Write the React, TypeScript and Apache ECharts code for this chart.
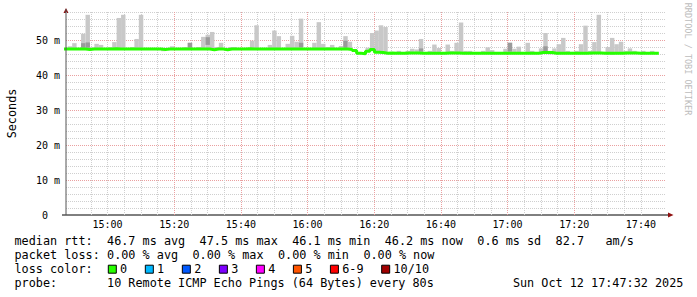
import React, { useEffect, useRef } from "react";
import * as echarts from "echarts";

// ---------- data ----------
const STEP_SECONDS = 80;
const FIRST_STEP_CLOCK: [number, number, number] = [14, 46, 43]; // start of first 80 s step (k = -1)
const RANGE_START_CLOCK: [number, number, number] = [14, 47, 32];
const RANGE_END_CLOCK: [number, number, number] = [17, 47, 32];
const FIRST_K = -1;

// median rtt (ms) per step, k = -1 .. 132
const medianMs = [
  47.4,
  47.4, 47.4, 47.4, 47.4, 47.3, 47.4, 47.4, 47.4, 47.4, 47.4,
  47.5, 47.4, 47.4, 47.4, 47.4, 47.4, 47.4, 47.4, 47.4, 47.4,
  47.4, 47.3, 47.4, 47.4, 47.4, 47.4, 47.4, 47.4, 47.4, 47.4,
  47.4, 47.4, 47.2, 47.4, 47.4, 47.2, 47.4, 47.4, 47.4, 47.4,
  47.5, 47.4, 47.4, 47.4, 47.4, 47.4, 47.4, 47.4, 47.4, 47.4,
  47.4, 47.4, 47.4, 47.4, 47.4, 47.4, 47.4, 47.4, 47.4, 47.4,
  47.4, 47.4, 47.4, 47.3, 47.0, 46.2, 46.1, 46.8, 47.3, 46.5,
  46.4, 46.2, 46.3, 46.2, 46.2, 46.2, 46.3, 46.3, 46.3, 46.2,
  46.2, 46.2, 46.2, 46.2, 46.2, 46.3, 46.3, 46.3, 46.2, 46.2,
  46.2, 46.2, 46.2, 46.2, 46.2, 46.2, 46.2, 46.2, 46.2, 46.2,
  46.2, 46.2, 46.2, 46.2, 46.2, 46.2, 46.4, 46.4, 46.4, 46.2,
  46.2, 46.2, 46.2, 46.2, 46.2, 46.2, 46.2, 46.3, 46.3, 46.3,
  46.2, 46.2, 46.2, 46.2, 46.2, 46.3, 46.3, 46.3, 46.2, 46.2,
  46.2, 46.2, 46.2,
];

// highest ping (ms) per step, k = -1 .. 132
const smokeMaxMs = [
  47.6,
  48.2, 49.1, 47.6, 51.8, 57.2, 47.9, 48.9, 48.6, 47.6, 48.0,
  49.4, 56.3, 57.2, 47.6, 48.0, 50.3, 57.2, 47.6, 47.6, 47.6,
  47.6, 47.6, 47.6, 48.2, 47.6, 47.6, 48.0, 49.2, 47.6, 48.0,
  50.9, 51.5, 52.3, 48.0, 49.2, 47.6, 48.0, 48.0, 47.6, 47.6,
  47.6, 49.8, 54.2, 47.6, 47.6, 48.6, 52.7, 51.1, 47.6, 48.9,
  51.2, 49.5, 56.1, 47.6, 47.6, 49.2, 55.1, 48.9, 48.0, 48.6,
  47.6, 48.3, 51.1, 49.5, 47.3, 46.4, 46.4, 47.8, 52.0, 52.7,
  54.2, 53.7, 46.5, 46.4, 46.9, 46.4, 46.9, 47.5, 47.3, 50.3,
  46.4, 46.9, 48.7, 47.7, 46.4, 48.7, 46.9, 49.2, 55.0, 46.9,
  46.9, 46.4, 46.4, 46.9, 47.9, 47.1, 46.4, 46.4, 47.5, 49.2,
  47.5, 48.1, 46.4, 49.2, 46.9, 46.4, 47.6, 52.0, 46.9, 47.6,
  48.8, 50.6, 46.9, 46.6, 46.9, 48.8, 54.1, 46.9, 49.4, 57.2,
  46.6, 48.0, 50.6, 48.8, 49.5, 46.9, 47.6, 46.9, 46.4, 46.9,
  46.4, 46.9, 46.4,
];

// steps whose lowest ping shows below the median line: [k, ms]
const lowPingMs: [number, number][] = [
  [21, 46.8],
  [108, 45.9],
  [122, 45.8],
];

// darker (dense) part of the smoke: [k, lowMs, highMs]
const denseBandMs: [number, number, number][] = [
  [3, 47.8, 49.1],
  [4, 47.8, 49.3],
  [27, 47.8, 49.2],
  [31, 48.6, 50.8],
  [52, 47.9, 49.2],
  [62, 47.8, 49.8],
  [79, 46.7, 47.6],
  [99, 46.7, 49.2],
  [107, 46.6, 48.2],
];

const Y_MAX_MS = 58;
// x tick labels (major, red grid) and minor grid spacing
const majorTickLabels = ["15:00", "15:20", "15:40", "16:00", "16:20", "16:40", "17:00", "17:20", "17:40"];
const MINOR_GRID_MINUTES = 5;

const legendRows: [string, number][][] = [
  [["median rtt:", 0], ["46.7 ms avg", 13], ["47.5 ms max", 26], ["46.1 ms min", 39], ["46.2 ms now", 52], ["0.6 ms sd", 65], ["82.7", 76], ["am/s", 83]],
  [["packet loss:", 0], ["0.00 % avg", 13], ["0.00 % max", 25], ["0.00 % min", 37], ["0.00 % now", 49]],
  [["loss color:", 0]],
  [["probe:", 0], ["10 Remote ICMP Echo Pings (64 Bytes) every 80s", 13], ["Sun Oct 12 17:47:32 2025", 70]],
];
const lossLabels = ["0", "1", "2", "3", "4", "5", "6-9", "10/10"];
const lossColors = ["#26ff00", "#00b8ff", "#0059ff", "#7e00ff", "#ff00ff", "#ff5500", "#ff0000", "#a10000"];
const watermark = "RRDTOOL / TOBI OETIKER";

// ---------- build ----------
const clock = (c: [number, number, number]) => new Date(2025, 9, 12, c[0], c[1], c[2]).getTime();
const T_MIN = clock(RANGE_START_CLOCK);
const T_MAX = clock(RANGE_END_CLOCK);
const T_FIRST = clock(FIRST_STEP_CLOCK);
const STEP_MS = STEP_SECONDS * 1000;

const majorTicks = majorTickLabels.map((s) => {
  const [h, m] = s.split(":").map(Number);
  return clock([h, m, 0]);
});
const minorTicks: number[] = [];
{
  const first = new Date(T_MIN);
  const startMin = Math.ceil((first.getHours() * 60 + first.getMinutes() + first.getSeconds() / 60) / MINOR_GRID_MINUTES) * MINOR_GRID_MINUTES;
  for (let m = startMin; ; m += MINOR_GRID_MINUTES) {
    const t = clock([Math.floor(m / 60), m % 60, 0]);
    if (t >= T_MAX) break;
    minorTicks.push(t);
  }
}

const smokeData = medianMs.map((med, i) => {
  const k = i + FIRST_K;
  const low = lowPingMs.find((p) => p[0] === k);
  const band = denseBandMs.find((b) => b[0] === k);
  return [T_FIRST + i * STEP_MS, low ? low[1] : med, smokeMaxMs[i], band ? band[1] : 0, band ? band[2] : 0];
});
const medianData: number[][] = medianMs.map((v, i) => [T_FIRST + i * STEP_MS, v]);
medianData.push([T_FIRST + medianMs.length * STEP_MS, medianMs[medianMs.length - 1]]);

const MONO = "DejaVu Sans Mono";
const MINOR = "#cfcfcf";
const MAJOR = "#eaa0a0";
const SMOKE = "#c8c8c8";
const SMOKE_DENSE = "#9a9a9a";

const pad2 = (n: number) => (n < 10 ? "0" + n : "" + n);

function buildGraphic() {
  const els: any[] = [];
  const X0 = 14.5;
  const CW = 7.12;
  const FS = 11.8;
  const rowY = [241, 255.1, 269.2, 283.3];
  legendRows.forEach((row, r) => {
    row.forEach(([txt, col]) => {
      els.push({
        type: "text",
        x: X0 + col * CW,
        y: rowY[r],
        style: { text: txt, fontFamily: MONO, fontSize: FS, fill: "#000", textVerticalAlign: "middle", textAlign: "left" },
      });
    });
  });
  let sx = 108.3;
  lossLabels.forEach((lab, i) => {
    els.push({
      type: "rect",
      shape: { x: sx, y: rowY[2] - 4, width: 8, height: 8 },
      style: { fill: lossColors[i], stroke: "#000", lineWidth: 1 },
    });
    els.push({
      type: "text",
      x: sx + 11.8,
      y: rowY[2],
      style: { text: lab, fontFamily: MONO, fontSize: FS, fill: "#000", textVerticalAlign: "middle", textAlign: "left" },
    });
    sx += 29.9 + lab.length * CW;
  });
  // axis arrows and line extensions
  els.push({ type: "line", shape: { x1: 62, y1: 215, x2: 669, y2: 215 }, style: { stroke: "#000", lineWidth: 1 } });
  els.push({ type: "polygon", shape: { points: [[668, 212.5], [673.5, 215], [668, 217.5]] }, style: { fill: "#901010" } });
  els.push({ type: "polygon", shape: { points: [[63.5, 13], [66, 8], [68.5, 13]] }, style: { fill: "#901010" } });
  els.push({ type: "line", shape: { x1: 66, y1: 9, x2: 66, y2: 13 }, style: { stroke: "#555", lineWidth: 1 } });
  // watermark
  els.push({
    type: "text",
    x: 687.5,
    y: 59,
    rotation: -Math.PI / 2,
    style: { text: watermark, fontFamily: MONO, fontSize: 8.5, fill: "#bcbcbc", textAlign: "center", textVerticalAlign: "middle" },
  });
  return els;
}

const option: any = {
  animation: false,
  backgroundColor: "#ffffff",
  grid: { left: 66, right: 31, top: 12, bottom: 82, containLabel: false, outerBoundsMode: "none" },
  xAxis: [
    {
      type: "value",
      min: T_MIN,
      max: T_MAX,
      position: "bottom",
      z: 0,
      axisLine: { show: false },
      axisTick: { show: false, customValues: minorTicks },
      axisLabel: { show: false, customValues: minorTicks },
      splitLine: { show: true, showMinLine: false, showMaxLine: false, lineStyle: { color: MINOR, type: [1, 1], width: 1 } },
    },
    {
      type: "value",
      min: T_MIN,
      max: T_MAX,
      position: "bottom",
      z: 0,
      axisLine: { show: false, onZero: false },
      axisTick: { show: false, customValues: majorTicks },
      axisLabel: {
        customValues: majorTicks,
        fontFamily: MONO,
        fontSize: 10,
        color: "#000",
        margin: 4,
        formatter: (v: number) => {
          const d = new Date(v);
          return pad2(d.getHours()) + ":" + pad2(d.getMinutes());
        },
      },
      splitLine: { show: true, showMinLine: false, showMaxLine: false, lineStyle: { color: MAJOR, type: [1, 1], width: 1 } },
    },
  ],
  yAxis: [
    {
      type: "value",
      min: 0,
      max: Y_MAX_MS,
      interval: 2,
      position: "left",
      z: 0,
      axisLine: { show: false },
      axisTick: { show: false },
      axisLabel: { show: false },
      splitLine: { show: true, showMinLine: false, lineStyle: { color: MINOR, type: [1, 1], width: 1 } },
    },
    {
      type: "value",
      min: 0,
      max: Y_MAX_MS,
      interval: 10,
      position: "left",
      z: 0,
      name: "Seconds",
      nameLocation: "middle",
      nameGap: 48,
      nameTextStyle: { fontFamily: MONO, fontSize: 11.8, color: "#000" },
      axisLine: { show: false, onZero: false },
      axisTick: { show: false },
      axisLabel: {
        fontFamily: MONO,
        fontSize: 10,
        color: "#000",
        margin: 6,
        formatter: (v: number) => {
          if (v % 10 !== 0) return "";
          if (v === 0) return "{zero|0}";
          return v + " m";
        },
        rich: { zero: { fontFamily: MONO, fontSize: 10, color: "#000", padding: [0, 12, 0, 0] } },
      },
      splitLine: { show: true, showMinLine: false, showMaxLine: false, lineStyle: { color: MAJOR, type: [1, 1], width: 1 } },
    },
  ],
  series: [
    {
      type: "custom",
      xAxisIndex: 1,
      yAxisIndex: 1,
      z: 2,
      clip: true,
      silent: true,
      encode: { x: 0, y: [1, 2] },
      data: smokeData,
      renderItem: (_p: any, api: any) => {
        const t = api.value(0) as number;
        const lo = api.value(1) as number;
        const hi = api.value(2) as number;
        const dlo = api.value(3) as number;
        const dhi = api.value(4) as number;
        const children: any[] = [];
        if (hi > lo) {
          const a = api.coord([t, hi]);
          const b = api.coord([t + STEP_MS, lo]);
          children.push({ type: "rect", shape: { x: a[0], y: a[1], width: b[0] - a[0], height: b[1] - a[1] }, style: { fill: SMOKE } });
        }
        if (dhi > 0) {
          const a = api.coord([t, dhi]);
          const b = api.coord([t + STEP_MS, dlo]);
          children.push({ type: "rect", shape: { x: a[0], y: a[1], width: b[0] - a[0], height: b[1] - a[1] }, style: { fill: SMOKE_DENSE } });
        }
        return { type: "group", children };
      },
    },
    {
      type: "line",
      xAxisIndex: 1,
      yAxisIndex: 1,
      z: 3,
      step: "end",
      symbol: "none",
      silent: true,
      clip: true,
      data: medianData,
      lineStyle: { color: "#26ff00", width: 3 },
    },
  ],
  graphic: [
    ...buildGraphic(),
    { type: "line", z: 10, shape: { x1: 66, y1: 12, x2: 66, y2: 215 }, style: { stroke: "#555", lineWidth: 1 } },
  ],
};

export default function App() {
  const ref = useRef<HTMLDivElement>(null);
  useEffect(() => {
    if (!ref.current) return;
    const chart = echarts.init(ref.current, undefined, { renderer: "svg" });
    chart.setOption(option);
    return () => chart.dispose();
  }, []);
  return (
    <div
      ref={ref}
      style={{ position: "absolute", left: 0, top: 0, width: 697, height: 297, background: "#ffffff" }}
    />
  );
}
